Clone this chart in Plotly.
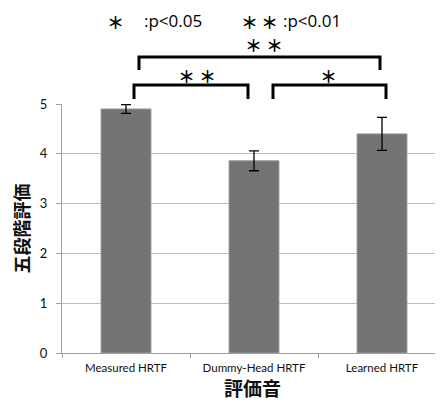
import plotly.graph_objects as go

categories = ["Measured HRTF", "Dummy-Head HRTF", "Learned HRTF"]
means = [4.9, 3.86, 4.4]
errors = [0.09, 0.2, 0.33]
y_ticks = [0, 1, 2, 3, 4, 5]
y_title = "五段階評価"
x_title = "評価音"

# the page body has an 8px default margin; compensate so the picture lines up
O = 8
W, H = 443 - O, 407 - O
L, R, T, B = 62 - O, 0, 104 - O, 54
pw, ph = W - L - R, H - T - B
xr = [-0.5, -0.5 + pw / 128.0]


def px2paper(px, py):
    px -= O
    py -= O
    return (px - L) / pw, (H - B - py) / ph


fig = go.Figure()
fig.add_trace(go.Bar(
    x=categories, y=means, width=0.39,
    marker=dict(color="#737373", line=dict(color="#9a9a9a", width=1)),
    error_y=dict(type="data", array=errors, color="#000000", thickness=1.3, width=5),
))

shapes = []
annotations = []


def bracket(x0, x1, ytop, ybot):
    a = px2paper(x0, ybot)
    b = px2paper(x0, ytop)
    c = px2paper(x1, ytop)
    d = px2paper(x1, ybot)
    path = f"M{a[0]},{a[1]} L{b[0]},{b[1]} L{c[0]},{c[1]} L{d[0]},{d[1]}"
    shapes.append(dict(type="path", xref="paper", yref="paper", path=path,
                       line=dict(color="#000000", width=3)))


bracket(134, 248, 85, 99)
bracket(273, 386, 85, 99)
bracket(139, 380, 57, 70)

star_font = dict(family="Noto Sans CJK JP", size=17, color="#000000", weight="bold")
txt_font = dict(family="Open Sans, Lato", size=17, color="#000000")


def ann(text, px, py, font, xanchor="center"):
    x, y = px2paper(px, py)
    annotations.append(dict(text=text, x=x, y=y, xref="paper", yref="paper",
                            showarrow=False, font=font, xanchor=xanchor, yanchor="middle"))


for sx, sy in [(186, 76), (207, 76), (328, 76), (253, 45), (274, 45),
               (115, 21), (249, 21), (269, 21)]:
    ann("＊", sx, sy, star_font)
ann(":p<0.05", 142, 20, txt_font, "left")
ann(":p<0.01", 281, 20, txt_font, "left")

fig.update_layout(
    width=W, height=H,
    margin=dict(l=L, r=R, t=T, b=B),
    paper_bgcolor="white", plot_bgcolor="white",
    showlegend=False,
    shapes=shapes, annotations=annotations,
    font=dict(family="Lato, Open Sans", color="#222222"),
    xaxis=dict(
        type="category", range=xr, tickson="boundaries",
        ticks="outside", ticklen=4, tickcolor="#a0a0a0",
        showline=True, linecolor="#a0a0a0", showgrid=False,
        tickfont=dict(size=11.5, color="#111111"), ticklabelstandoff=4,
        title=dict(text="<b>" + x_title + "</b>",
                   font=dict(family="Noto Sans CJK JP", size=19, color="#111111"), standoff=4),
    ),
    yaxis=dict(
        range=[0, 5], tickvals=y_ticks, ticks="outside", ticklen=5, tickcolor="#a0a0a0",
        showline=True, linecolor="#a0a0a0", showgrid=True, gridcolor="#bdbdbd", gridwidth=1,
        zeroline=False, tickfont=dict(size=13, color="#111111"), ticklabelstandoff=6,
        title=dict(text="<b>" + y_title + "</b>",
                   font=dict(family="Noto Sans CJK JP", size=18, color="#111111"), standoff=6),
    ),
)

fig.write_html("out.html")
